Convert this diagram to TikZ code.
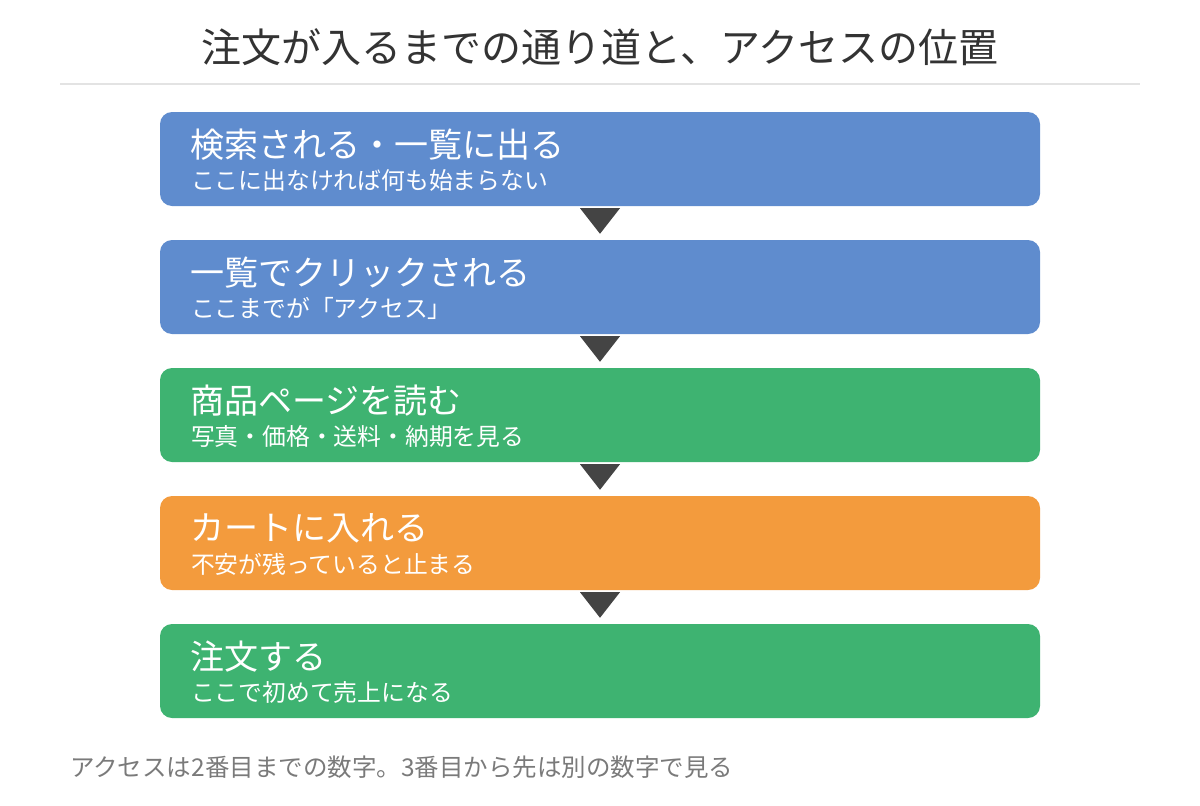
\documentclass[tikz,border=0pt]{standalone}
\usepackage{fontspec}
\setmainfont{Noto Sans CJK JP}
\usetikzlibrary{calc}

\definecolor{stepBlue}{HTML}{5F8CCE}
\definecolor{stepGreen}{HTML}{3EB371}
\definecolor{stepOrange}{HTML}{F39B3D}
\definecolor{arrowGray}{HTML}{444444}
\definecolor{titleGray}{HTML}{333333}
\definecolor{ruleGray}{HTML}{E3E3E3}
\definecolor{noteGray}{HTML}{7A7A7A}

\tikzset{
  stepbox/.style={rectangle, rounded corners=12pt, minimum width=880pt, minimum height=94pt, inner sep=0pt},
  headtext/.style={anchor=west, inner sep=0pt, text=white, font=\fontsize{34}{38}\selectfont},
  subtext/.style={anchor=west, inner sep=0pt, text=white, font=\fontsize{23.8}{27}\selectfont},
}

\begin{document}
\begin{tikzpicture}[x=1pt,y=-1pt]
    \useasboundingbox (0,0) rectangle (1200,806);

    % Define the positions of the boxes
    \coordinate (searchPos) at (600,159);
    \coordinate (clickPos) at (600,287);
    \coordinate (pagePos) at (600,415);
    \coordinate (cartPos) at (600,543);
    \coordinate (orderPos) at (600,671);

    % Title and the rule under it
    \node[text=titleGray, font=\fontsize{40}{46}\selectfont] (title) at (600,47) {注文が入るまでの通り道と、アクセスの位置};
    \draw[line width=2pt, ruleGray] (60,84) -- (1140,84);

    % Draw the boxes
    \node[stepbox, fill=stepBlue] (search) at (searchPos) {};
    \node[stepbox, fill=stepBlue] (click) at (clickPos) {};
    \node[stepbox, fill=stepGreen] (page) at (pagePos) {};
    \node[stepbox, fill=stepOrange] (cart) at (cartPos) {};
    \node[stepbox, fill=stepGreen] (order) at (orderPos) {};

    % Draw the labels
    \node[headtext] (searchHead) at ([xshift=30pt,yshift=-33pt]search.north west) {検索される・一覧に出る};
    \node[subtext] (searchSub) at ([xshift=31pt,yshift=-69pt]search.north west) {ここに出なければ何も始まらない};
    \node[headtext] (clickHead) at ([xshift=30pt,yshift=-33pt]click.north west) {一覧でクリックされる};
    \node[subtext] (clickSub) at ([xshift=31pt,yshift=-69pt]click.north west) {ここまでが「アクセス」};
    \node[headtext] (pageHead) at ([xshift=30pt,yshift=-33pt]page.north west) {商品ページを読む};
    \node[subtext] (pageSub) at ([xshift=31pt,yshift=-69pt]page.north west) {写真・価格・送料・納期を見る};
    \node[headtext] (cartHead) at ([xshift=30pt,yshift=-33pt]cart.north west) {カートに入れる};
    \node[subtext] (cartSub) at ([xshift=31pt,yshift=-69pt]cart.north west) {不安が残っていると止まる};
    \node[headtext] (orderHead) at ([xshift=30pt,yshift=-33pt]order.north west) {注文する};
    \node[subtext] (orderSub) at ([xshift=31pt,yshift=-69pt]order.north west) {ここで初めて売上になる};

    % Draw the triangles between the boxes
    \foreach \a/\b in {search/click, click/page, page/cart, cart/order}
        \fill[arrowGray] ($(\a.south)+(-20,2)$) -- ($(\a.south)+(20,2)$) -- ($(\b.north)+(0,-6)$) -- cycle;

    % Note under the flow
    \node[anchor=west, inner sep=0pt, text=noteGray, font=\fontsize{24.5}{28}\selectfont] (note) at (70,767) {アクセスは2番目までの数字。3番目から先は別の数字で見る};
\end{tikzpicture}
\end{document}
